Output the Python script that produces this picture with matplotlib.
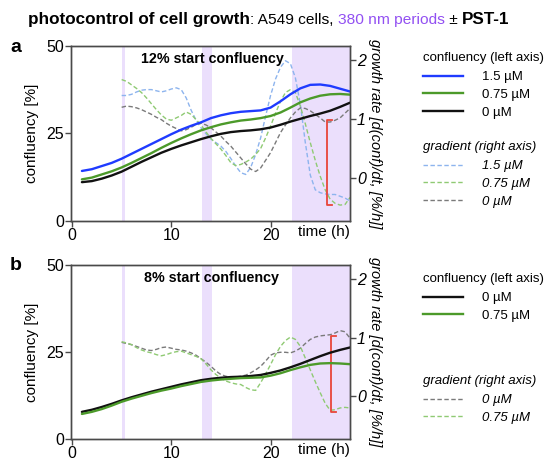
import matplotlib
matplotlib.use('Agg')
import matplotlib.pyplot as plt
from matplotlib.lines import Line2D

plt.rcParams['font.family'] = ['Liberation Sans', 'DejaVu Sans']

# ---------------- data ----------------
t_conf = [1, 2, 3, 4, 5, 6, 7, 8, 9, 10, 11, 12, 13, 14, 15, 16, 17, 18, 19, 20,
          21, 22, 23, 24, 25, 26, 27, 28]
t_grad = [5, 5.5, 6, 6.5, 7, 7.5, 8, 8.5, 9, 9.5, 10, 10.5, 11, 11.5, 12, 12.5, 13,
          13.5, 14, 14.5, 15, 15.5, 16, 16.5, 17, 17.5, 18, 18.5, 19, 19.5, 20, 20.5,
          21, 21.5, 22, 22.5, 23, 23.5, 24, 24.5, 25, 25.5, 26, 26.5, 27, 27.5, 28]

# panel a (12% start confluency)
a_conf_15 = [14.3, 14.8, 15.7, 16.6, 17.8, 19.2, 20.6, 22.0, 23.4, 24.8, 26.1, 27.2,
             28.2, 29.4, 30.2, 30.8, 31.2, 31.4, 31.6, 32.4, 34.2, 36.2, 37.9, 38.9,
             39.0, 38.6, 37.8, 37.0]
a_conf_075 = [11.9, 12.4, 13.3, 14.2, 15.3, 16.6, 18.0, 19.4, 20.9, 22.3, 23.6, 24.8,
              25.9, 26.8, 27.6, 28.2, 28.7, 29.0, 29.4, 30.0, 31.0, 32.4, 33.9, 35.0,
              35.8, 36.2, 36.3, 36.1]
a_conf_0 = [11.1, 11.4, 12.1, 13.0, 14.1, 15.5, 16.9, 18.2, 19.5, 20.6, 21.6, 22.5,
            23.4, 24.2, 24.9, 25.4, 25.7, 25.9, 26.2, 26.7, 27.5, 28.4, 29.2, 30.0,
            30.7, 31.5, 32.6, 33.8]
a_grad_15 = [1.40, 1.40, 1.42, 1.46, 1.49, 1.50, 1.50, 1.48, 1.46, 1.48, 1.51, 1.53,
             1.50, 1.36, 1.15, 0.98, 0.85, 0.75, 0.66, 0.60, 0.54, 0.45, 0.33, 0.20,
             0.09, 0.06, 0.18, 0.40, 0.68, 1.05, 1.40, 1.68, 1.88, 1.99, 1.94, 1.70,
             1.25, 0.60, 0.05, -0.20, -0.25, -0.27, -0.28, -0.28, -0.31, -0.34, -0.39]
a_grad_075 = [1.67, 1.64, 1.58, 1.52, 1.45, 1.36, 1.26, 1.16, 1.07, 1.00, 0.98, 1.02,
              1.06, 1.12, 1.08, 0.99, 0.90, 0.78, 0.67, 0.58, 0.49, 0.38, 0.26, 0.21,
              0.23, 0.27, 0.32, 0.40, 0.50, 0.68, 0.88, 1.10, 1.30, 1.45, 1.50, 1.45,
              1.22, 0.92, 0.60, 0.30, 0.03, -0.20, -0.36, -0.43, -0.46, -0.45, -0.33]
a_grad_0 = [1.20, 1.22, 1.21, 1.19, 1.16, 1.12, 1.08, 1.03, 0.99, 0.93, 0.88, 0.84,
            0.80, 0.82, 0.86, 0.91, 0.93, 0.90, 0.85, 0.78, 0.71, 0.62, 0.54, 0.44,
            0.34, 0.24, 0.15, 0.11, 0.17, 0.30, 0.43, 0.60, 0.77, 0.90, 1.02, 1.12,
            1.19, 1.18, 1.14, 1.08, 1.02, 0.95, 0.95, 0.98, 1.02, 1.10, 1.18]

# panel b (8% start confluency)
b_conf_0 = [7.8, 8.4, 9.2, 10.1, 11.1, 12.0, 12.8, 13.6, 14.3, 15.0, 15.7, 16.3,
            16.9, 17.3, 17.6, 17.8, 17.9, 18.1, 18.4, 19.0, 19.7, 20.6, 21.6, 22.7,
            23.8, 24.8, 25.6, 26.3]
b_conf_075 = [7.2, 7.8, 8.6, 9.6, 10.7, 11.6, 12.4, 13.2, 13.9, 14.5, 15.2, 15.8,
              16.4, 16.8, 17.1, 17.3, 17.5, 17.6, 17.7, 18.2, 18.9, 19.8, 20.6, 21.3,
              21.7, 21.8, 21.7, 21.5]
b_grad_0 = [0.92, 0.90, 0.88, 0.85, 0.82, 0.79, 0.78, 0.80, 0.83, 0.84, 0.82, 0.80,
            0.79, 0.77, 0.74, 0.70, 0.64, 0.58, 0.51, 0.43, 0.37, 0.34, 0.33, 0.33,
            0.34, 0.36, 0.40, 0.45, 0.51, 0.60, 0.70, 0.74, 0.75, 0.75, 0.74, 0.77,
            0.82, 0.90, 0.97, 1.01, 1.03, 1.04, 1.05, 1.08, 1.12, 1.10, 0.99]
b_grad_075 = [0.93, 0.91, 0.88, 0.83, 0.79, 0.76, 0.74, 0.71, 0.69, 0.71, 0.74, 0.76,
              0.77, 0.74, 0.71, 0.68, 0.64, 0.55, 0.45, 0.37, 0.31, 0.26, 0.23, 0.21,
              0.20, 0.15, 0.11, 0.10, 0.23, 0.38, 0.54, 0.71, 0.85, 0.95, 1.01, 0.97,
              0.85, 0.65, 0.45, 0.25, 0.06, -0.12, -0.24, -0.23, -0.20, -0.19, -0.20]

light_periods = [(5.0, 5.3), (13.1, 14.1), (22.2, 28.0)]
bracket_a = (25.7, -0.46, 0.99)   # time, low, high (right axis)
bracket_b = (26.1, -0.27, 1.02)

x_ticks = [0, 10, 20]
y_ticks = [0, 25, 50]
g_ticks = [0, 1, 2]

# ---------------- style ----------------
C_BLUE = '#1f3bff'
C_GREEN = '#4c9a2a'
C_BLACK = '#111111'
C_LBLUE = '#8db4ee'
C_LGREEN = '#8fca73'
C_GRAY = '#7a7a7a'
C_SHADE = '#ebdffc'
C_PURPLE = '#9250f2'
C_RED = '#e8463a'
C_SPINE = '#4a4a4a'

W, H = 549, 458
fig = plt.figure(figsize=(W / 100, H / 100), dpi=100)


def rect(l, t, r, b):
    return [l / W, 1 - b / H, (r - l) / W, (b - t) / H]


def make_panel(r, label, subtitle, conf, grad, bracket):
    ax = fig.add_axes(rect(*r))
    ax2 = ax.twinx()
    ax.set_zorder(ax2.get_zorder() + 1)
    ax.patch.set_visible(False)
    for s, e in light_periods:
        ax2.axvspan(s, e, color=C_SHADE, lw=0, zorder=0)
    for tvals, vals, col, lw in conf:
        ax.plot(tvals, vals, color=col, lw=lw, solid_capstyle='round')
    for tvals, vals, col in grad:
        ax2.plot(tvals, vals, color=col, lw=1.0, dashes=(3.2, 1.8))
    bt, blo, bhi = bracket
    cap = 0.45
    ax2.plot([bt + cap, bt, bt, bt + cap], [bhi, bhi, blo, blo], color=C_RED, lw=1.3)
    ax.set_xlim(-0.1, 28)
    ax.set_ylim(0, 50)
    ax2.set_ylim(-0.73, 2.24)
    ax.set_xticks(x_ticks)
    ax.set_yticks(y_ticks)
    ax2.set_yticks(g_ticks)
    for a in (ax, ax2):
        for sp in a.spines.values():
            sp.set_color(C_SPINE)
            sp.set_linewidth(1.0)
        a.tick_params(direction='out', length=4, width=1.0, color=C_SPINE,
                      labelsize=11.5, pad=1)
    for lab in ax2.get_yticklabels():
        lab.set_fontstyle('italic')
    ax.set_ylabel('confluency [%]', fontsize=11, labelpad=5)
    ax2.set_ylabel('growth rate [d(conf)/dt, [%/h]]', fontsize=10.5,
                   style='italic', rotation=270, labelpad=12)
    ax.text(1.0, -0.022, 'time (h)', transform=ax.transAxes, ha='right', va='top',
            fontsize=11)
    ax.text(0.505, 0.925, subtitle, transform=ax.transAxes, ha='center', va='center',
            fontsize=10.3, fontweight='bold')
    fig.text(10 / W, 1 - (r[1] + 1) / H, label, fontsize=14, fontweight='bold',
             ha='left', va='center')
    return ax, ax2


make_panel((71, 46, 350, 221), 'a', '12% start confluency',
           [(t_conf, a_conf_15, C_BLUE, 1.7), (t_conf, a_conf_075, C_GREEN, 1.7),
            (t_conf, a_conf_0, C_BLACK, 1.7)],
           [(t_grad, a_grad_15, C_LBLUE), (t_grad, a_grad_075, C_LGREEN),
            (t_grad, a_grad_0, C_GRAY)], bracket_a)

make_panel((71, 265, 350, 439), 'b', '8% start confluency',
           [(t_conf, b_conf_0, C_BLACK, 1.7), (t_conf, b_conf_075, C_GREEN, 1.7)],
           [(t_grad, b_grad_0, C_GRAY), (t_grad, b_grad_075, C_LGREEN)], bracket_b)


# ---------------- legends ----------------
def solid(c):
    return Line2D([], [], color=c, lw=1.7)


def dashed(c):
    return Line2D([], [], color=c, lw=1.0, dashes=(3.2, 1.8))


def add_legend(handles, labels, title, x, y, italic):
    prop = {'size': 9.5}
    tprop = {'size': 9.5}
    if italic:
        prop['style'] = 'italic'
        tprop['style'] = 'italic'
    leg = fig.legend(handles, labels, title=title, loc='upper left',
                     bbox_to_anchor=(x / W, 1 - y / H), frameon=False, prop=prop,
                     title_fontproperties=tprop, alignment='left', borderpad=0,
                     borderaxespad=0, handlelength=3.0, handletextpad=1.5,
                     labelspacing=0.42)
    leg._legend_box.sep = 5
    return leg


add_legend([solid(C_BLUE), solid(C_GREEN), solid(C_BLACK)],
           ['1.5 µM', '0.75 µM', '0 µM'], 'confluency (left axis)', 423, 52, False)
add_legend([dashed(C_LBLUE), dashed(C_LGREEN), dashed(C_GRAY)],
           ['1.5 µM', '0.75 µM', '0 µM'], 'gradient (right axis)', 423, 141, True)
add_legend([solid(C_BLACK), solid(C_GREEN)],
           ['0 µM', '0.75 µM'], 'confluency (left axis)', 423, 273, False)
add_legend([dashed(C_GRAY), dashed(C_LGREEN)],
           ['0 µM', '0.75 µM'], 'gradient (right axis)', 423, 375, True)

# ---------------- title (multi-style) ----------------
pieces = [('photocontrol of cell growth', 'bold', 'black', 1.0),
          (': A549 cells, ', 'normal', 'black', 0.9),
          ('380 nm periods', 'normal', C_PURPLE, 0.9),
          (' ± ', 'normal', 'black', 0.9),
          ('PST-1', 'bold', 'black', 1.0)]
fs0 = 14.0
texts = [fig.text(0, 1 - 24 / H, s, fontsize=fs0 * k, fontweight=w, color=c,
                  va='baseline', ha='left') for s, w, c, k in pieces]
fig.canvas.draw()
r = fig.canvas.get_renderer()
total = sum(t.get_window_extent(r).width for t in texts)
scale = 482.0 / total
for t, p in zip(texts, pieces):
    t.set_fontsize(fs0 * p[3] * scale)
fig.canvas.draw()
widths = [t.get_window_extent(r).width for t in texts]
x0 = 28.0
for t, w in zip(texts, widths):
    t.set_x(x0 / W)
    x0 += w

fig.savefig('out.png', dpi=100)
